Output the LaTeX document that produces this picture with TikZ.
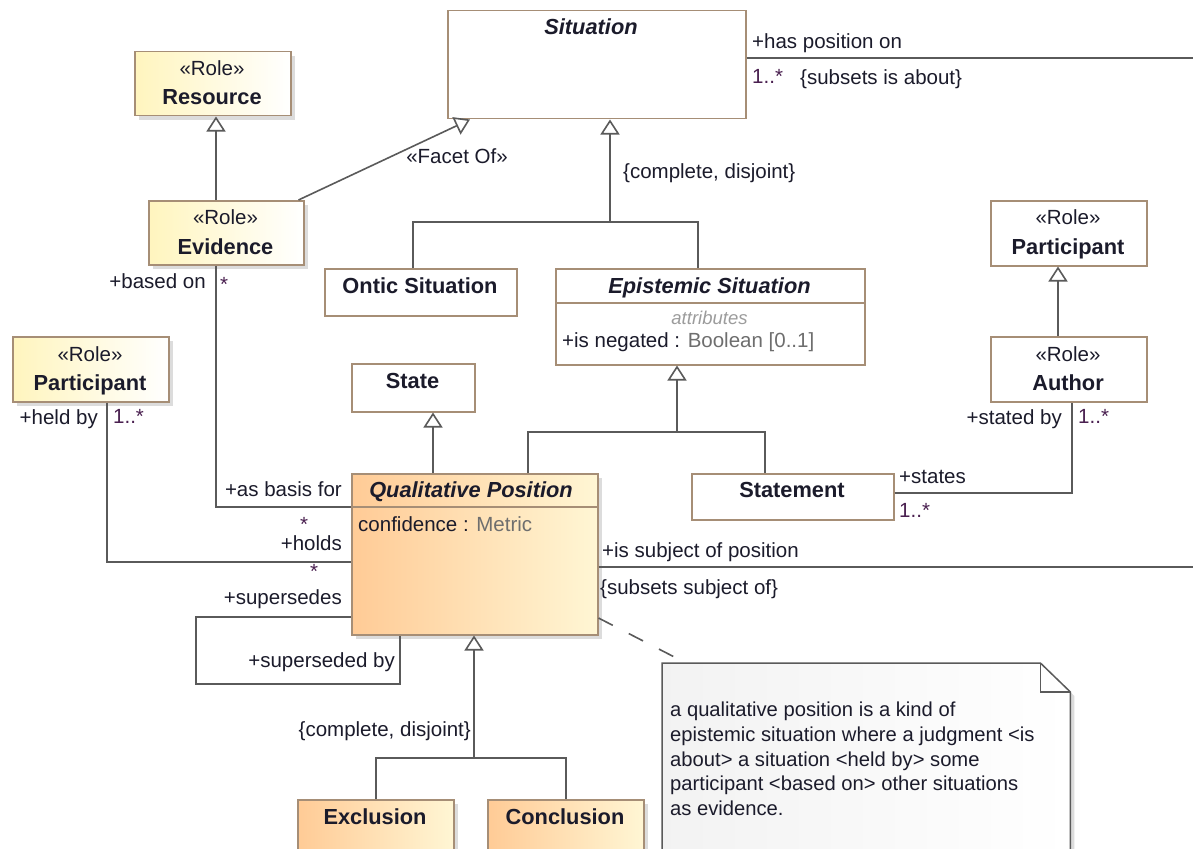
\documentclass[tikz,border=0pt]{standalone}
\usepackage{fontspec}
\setmainfont{Liberation Sans}
\usetikzlibrary{arrows.meta,shadows,calc}

\definecolor{umlline}{HTML}{5A5A5A}
\definecolor{umlborder}{HTML}{A68E76}
\definecolor{umltext}{HTML}{1B1B2B}
\definecolor{multcol}{HTML}{4A2050}
\definecolor{attrgray}{HTML}{6E6E6E}
\definecolor{hintgray}{HTML}{9C9C9C}
\definecolor{roleyellow}{HTML}{FFF5BE}
\definecolor{posdark}{HTML}{FFCB96}
\definecolor{poslight}{HTML}{FFF6D4}

\newcommand\lblsize{\fontsize{20.5}{24.5}\selectfont}
\newcommand\namesize{\fontsize{21.8}{26}\selectfont}
\newcommand\notesize{\fontsize{20.2}{24.7}\selectfont}

\tikzset{
  box/.style={draw=umlborder, line width=1.5pt, fill=white, inner sep=0pt, anchor=north west},
  softshadow/.style={drop shadow={shadow xshift=4pt, shadow yshift=-4pt, fill=black!30, opacity=.45}},
  rolebox/.style={box, softshadow, left color=roleyellow, right color=white},
  posbox/.style={box, softshadow, left color=posdark, right color=poslight},
  lbl/.style={font=\lblsize, text=umltext, inner sep=0pt, text height=16pt, text depth=3pt},
  mult/.style={lbl, text=multcol},
  cname/.style={font=\namesize\bfseries, text=umltext, inner sep=0pt, text height=17pt, text depth=2pt},
  aname/.style={cname, font=\namesize\bfseries\itshape},
  conn/.style={draw=umlline, line width=1.6pt},
  gen/.style={conn, -{Triangle[open, length=15pt, width=19pt]}},
  noteline/.style={conn, dash pattern=on 16pt off 18pt},
  divider/.style={draw=umlborder, line width=1.5pt},
  notebody/.style={draw=umlline, line width=1.5pt, left color=black!5, right color=white},
  noteshadow/.style={fill=black!30, opacity=.45},
}

\begin{document}
\begin{tikzpicture}[x=1pt,y=-1pt]
\useasboundingbox (0,0) rectangle (1193,848);
\fill[white] (0,0) rectangle (1193,848);
\clip (0,0) rectangle (1193,848);

% ---------- classes ----------
\node[rolebox, minimum width=156pt, minimum height=64pt] (res) at (134,51) {};
\node[rolebox, minimum width=155pt, minimum height=64pt] (evid) at (148,200) {};
\node[box, minimum width=298pt, minimum height=108pt] (sit) at (447,10) {};
\node[box, minimum width=192pt, minimum height=47pt] (ontic) at (324,268) {};
\node[box, minimum width=309pt, minimum height=96pt] (epi) at (555,268) {};
\node[box, minimum width=123pt, minimum height=48pt] (state) at (351,363) {};
\node[posbox, minimum width=246pt, minimum height=161pt] (qp) at (351,473) {};
\node[box, minimum width=202pt, minimum height=46pt] (stmt) at (691,473) {};
\node[box, minimum width=156pt, minimum height=65pt] (partR) at (990,200) {};
\node[box, minimum width=156pt, minimum height=65pt] (author) at (990,336) {};
\node[rolebox, minimum width=156pt, minimum height=65pt] (partL) at (12,336) {};
\node[posbox, minimum width=156pt, minimum height=70pt] (excl) at (297,799) {};
\node[posbox, minimum width=156pt, minimum height=70pt] (concl) at (487,799) {};

% compartment dividers
\draw[divider] ($(epi.north west)+(0,35)$) -- ($(epi.north east)+(0,35)$);
\draw[divider] ($(qp.north west)+(0,34)$) -- ($(qp.north east)+(0,34)$);

% ---------- comment note ----------
\node[inner sep=0pt, minimum width=408pt, minimum height=200pt, anchor=north west] (note) at (662,663) {};
\coordinate (foldA) at ($(note.north east)+(-30,0)$);
\coordinate (foldB) at ($(note.north east)+(0,29)$);
\fill[noteshadow] ($(note.north west)+(4,4)$) -- ($(foldA)+(4,4)$) -- ($(foldB)+(4,4)$)
  -- ($(note.south east)+(4,4)$) -- ($(note.south west)+(4,4)$) -- cycle;
\draw[notebody] (note.north west) -- (foldA) -- (foldB) -- (note.south east) -- (note.south west) -- cycle;
\draw[conn] (foldA) |- (foldB);
\node[font=\notesize, text=umltext, inner sep=0pt, anchor=north west, align=left] (notetext) at (670,702)
  {a qualitative position is a kind of\\epistemic situation where a judgment <is\\about> a situation <held by> some\\participant <based on> other situations\\as evidence.};

% ---------- generalizations ----------
\draw[gen] ($(evid.north west)+(68,0)$) -- ($(res.south west)+(82,0)$);
\draw[gen] ($(evid.north east)+(-6,0)$) -- ($(sit.south west)+(23,0)$);

\coordinate (sitJ) at (610,222);
\draw[conn] ($(ontic.north west)+(89,0)$) |- (sitJ) -| ($(epi.north west)+(143,0)$);
\draw[gen] (sitJ) -- (sit.south -| sitJ);

\draw[gen] ($(author.north west)+(68,0)$) -- ($(partR.south west)+(68,0)$);

\coordinate (epiJ) at (677,432);
\draw[conn] ($(qp.north west)+(177,0)$) |- (epiJ) -| ($(stmt.north west)+(74,0)$);
\draw[gen] (epiJ) -- (epi.south -| epiJ);

\draw[gen] ($(qp.north west)+(82,0)$) -- ($(state.south west)+(82,0)$);

\coordinate (qpJ) at (474,758);
\draw[conn] (excl.north) |- (qpJ) -| (concl.north);
\draw[gen] (qpJ) -- (qp.south -| qpJ);

% ---------- associations ----------
\coordinate (sitEnd) at (1193,58);
\draw[conn] ($(sit.north east)+(0,48)$) -- (sitEnd);
\draw[conn] ($(evid.south west)+(68,0)$) |- ($(qp.north west)+(0,34)$);
\draw[conn] ($(partL.south west)+(95,0)$) |- ($(qp.north west)+(0,89)$);
\coordinate (loopCorner) at (196,684);
\draw[conn] ($(qp.north west)+(0,144)$) -| (loopCorner) -| ($(qp.south west)+(49,0)$);
\coordinate (qpEnd) at (1193,567);
\draw[conn] ($(qp.north east)+(0,94)$) -- (qpEnd);
\draw[conn] ($(stmt.north east)+(0,20)$) -| ($(author.south west)+(82,0)$);
\draw[noteline] ($(qp.north east)+(0,145)$) -- ($(note.north west)+(24,0)$);

% ---------- class texts ----------
\node[lbl] (resStereo) at (212,69) {«Role»};
\node[cname] (resName) at (212,97) {Resource};
\node[lbl] (evidStereo) at (225.5,218) {«Role»};
\node[cname] (evidName) at (225.5,247) {Evidence};
\node[aname] (sitName) at (591,27) {Situation};
\node[cname] (onticName) at (420,286) {Ontic Situation};
\node[aname] (epiName) at (709.5,286) {Epistemic Situation};
\node[lbl, font=\fontsize{18.5}{22}\selectfont\itshape, text=hintgray] (epiHint) at (709.5,318) {attributes};
\node[lbl, anchor=west] (epiAttr) at (562,341) {+is negated : \textcolor{attrgray}{Boolean [0..1]}};
\node[cname] (stateName) at (412.5,381) {State};
\node[aname] (qpName) at (471,490) {Qualitative Position};
\node[lbl, anchor=west] (qpAttr) at (358,525) {confidence : \textcolor{attrgray}{Metric}};
\node[cname] (stmtName) at (792,490) {Statement};
\node[lbl] (partRStereo) at (1068,218) {«Role»};
\node[cname] (partRName) at (1068,247) {Participant};
\node[lbl] (authorStereo) at (1068,355) {«Role»};
\node[cname] (authorName) at (1068,383) {Author};
\node[lbl] (partLStereo) at (90,355) {«Role»};
\node[cname] (partLName) at (90,383) {Participant};
\node[cname] (exclName) at (375,817) {Exclusion};
\node[cname] (conclName) at (565,817) {Conclusion};

% ---------- connector labels ----------
\node[lbl, anchor=west] (hasPos) at (752,42) {+has position on};
\node[mult, anchor=west] (hasPosM) at (752,77) {1..*};
\node[lbl, anchor=west] (hasPosC) at (800,78) {\{subsets is about\}};
\node[lbl] (facetLbl) at (457,157) {«Facet Of»};
\node[lbl, anchor=west] (sitGS) at (623,172) {\{complete, disjoint\}};
\node[lbl, anchor=east] (basedOn) at (206,282) {+based on};
\node[mult, anchor=west] (basedOnM) at (220,285) {*};
\node[lbl, anchor=east] (asBasis) at (342,490) {+as basis for};
\node[mult] (asBasisM) at (304,525) {*};
\node[lbl, anchor=east] (holds) at (342,544) {+holds};
\node[mult] (holdsM) at (314,572) {*};
\node[lbl, anchor=east] (heldBy) at (98,418) {+held by};
\node[mult, anchor=west] (heldByM) at (113,417) {1..*};
\node[lbl, anchor=east] (supersedes) at (342,598) {+supersedes};
\node[lbl, anchor=east] (supersededBy) at (395,661) {+superseded by};
\node[lbl, anchor=east] (qpGS) at (471,730) {\{complete, disjoint\}};
\node[lbl, anchor=west] (subjPos) at (602,551) {+is subject of position};
\node[lbl, anchor=west] (subjPosC) at (600,588) {\{subsets subject of\}};
\node[lbl, anchor=west] (states) at (899,477) {+states};
\node[mult, anchor=west] (statesM) at (899,511) {1..*};
\node[lbl, anchor=east] (statedBy) at (1062,418) {+stated by};
\node[mult, anchor=west] (statedByM) at (1078,417) {1..*};
\end{tikzpicture}
\end{document}
